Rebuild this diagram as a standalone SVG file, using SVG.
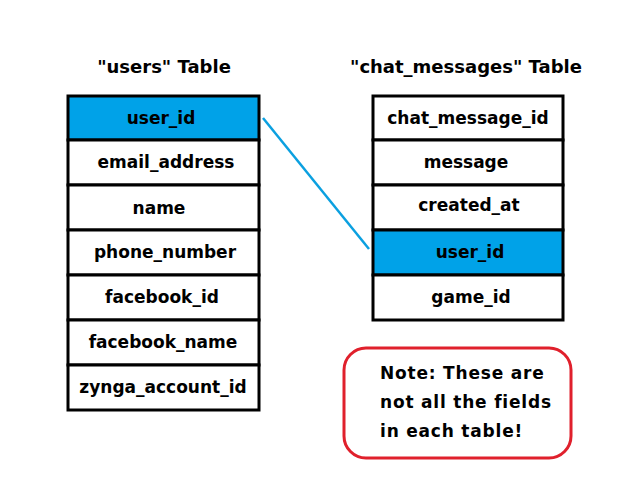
<svg xmlns="http://www.w3.org/2000/svg" width="640" height="480" viewBox="0 0 640 480">
<style>
text{font-family:"DejaVu Sans","Liberation Sans",sans-serif;font-size:17px;font-weight:bold;fill:#000}
.c{text-anchor:middle}
.row{fill:#fff;stroke:#000;stroke-width:3}
.key{fill:#00a2e8;stroke:#000;stroke-width:3}
.title{font-size:18px}
.note{letter-spacing:0.8px}
</style>
<rect width="640" height="480" fill="#fff"/>
<g id="users">
<text class="c title" x="164" y="73">"users" Table</text>
<rect class="key" x="68" y="96" width="191" height="44"/>
<rect class="row" x="68" y="140" width="191" height="45"/>
<rect class="row" x="68" y="185" width="191" height="45"/>
<rect class="row" x="68" y="230" width="191" height="45"/>
<rect class="row" x="68" y="275" width="191" height="45"/>
<rect class="row" x="68" y="320" width="191" height="45"/>
<rect class="row" x="68" y="365" width="191" height="45"/>
<text class="c" x="161" y="124">user_id</text>
<text class="c" x="166" y="168">email_address</text>
<text class="c" x="159" y="214">name</text>
<text class="c" x="165" y="258">phone_number</text>
<text class="c" x="162" y="303">facebook_id</text>
<text class="c" x="163" y="348">facebook_name</text>
<text class="c" x="163" y="393">zynga_account_id</text>
</g>
<g id="chat_messages">
<text class="c title" x="466" y="73">"chat_messages" Table</text>
<rect class="row" x="373" y="96" width="190" height="44"/>
<rect class="row" x="373" y="140" width="190" height="45"/>
<rect class="row" x="373" y="185" width="190" height="45"/>
<rect class="key" x="373" y="230" width="190" height="45"/>
<rect class="row" x="373" y="275" width="190" height="45"/>
<text class="c" x="468" y="124">chat_message_id</text>
<text class="c" x="466" y="168">message</text>
<text class="c" x="469" y="211">created_at</text>
<text class="c" x="470" y="258">user_id</text>
<text class="c" x="471" y="303">game_id</text>
</g>
<g id="note">
<rect x="344" y="348" width="227" height="110" rx="22" ry="22" fill="#fff" stroke="#e0202c" stroke-width="3"/>
<text class="note" x="380" y="379">Note: These are</text>
<text class="note" x="380" y="408">not all the fields</text>
<text class="note" x="380" y="437">in each table!</text>
</g>
<g id="connectors">
<line x1="263" y1="118" x2="369" y2="249" stroke="#0ba0e0" stroke-width="2.5"/>
</g>
</svg>
